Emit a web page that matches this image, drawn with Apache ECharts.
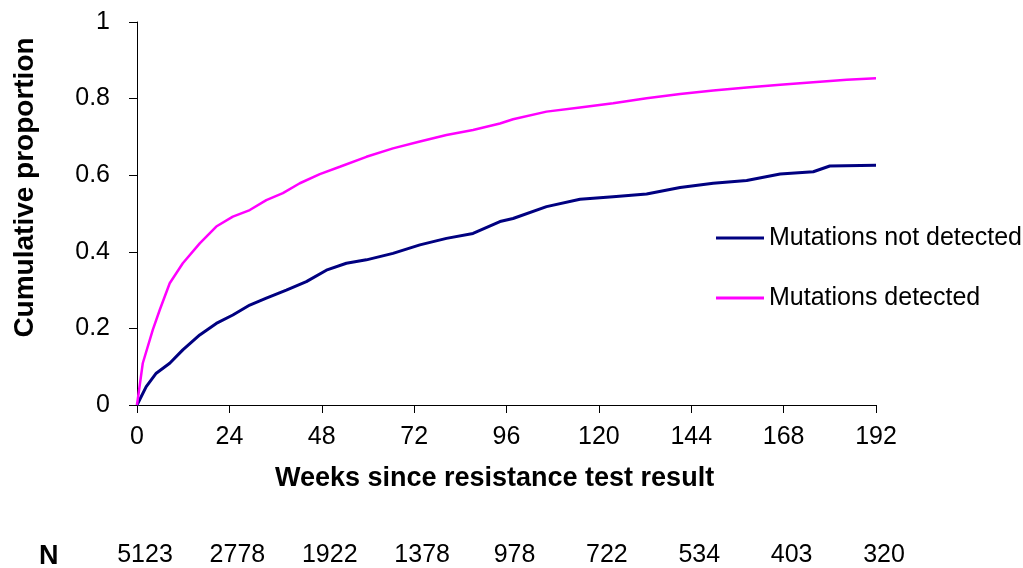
<!DOCTYPE html>
<html>
<head>
<meta charset="utf-8">
<script src="https://cdn.jsdelivr.net/npm/echarts@6/dist/echarts.min.js"></script>
<style>
  html, body { margin: 0; padding: 0; background: #fff; }
  #chart { width: 1023px; height: 568px; }
</style>
</head>
<body>
<div id="chart"></div>
<script>
// weeks since test / cumulative proportion
var weeksNotDetected = [0, 2.4, 5.0, 8.5, 11.9, 16.3, 20.6, 24.9, 29.3, 33.6, 38.8, 44, 49.2, 54.4, 59.6, 66.5, 73.5, 80.4, 87.3, 94.3, 97.7, 106.4, 115.1, 123.7, 132.4, 141.1, 149.7, 158.4, 167.1, 175.7, 180, 192];
var propNotDetected = [0, 0.048, 0.083, 0.109, 0.144, 0.183, 0.213, 0.235, 0.261, 0.279, 0.300, 0.322, 0.352, 0.370, 0.379, 0.396, 0.418, 0.435, 0.448, 0.479, 0.487, 0.518, 0.537, 0.544, 0.551, 0.568, 0.579, 0.586, 0.603, 0.609, 0.624, 0.626];

var weeksDetected = [0, 1.5, 4.1, 5.9, 8.5, 11.9, 16.3, 20.6, 24.9, 29.3, 33.6, 37.9, 42.3, 47.5, 52.7, 59.6, 66.5, 73.5, 80.4, 87.3, 94.3, 97.7, 106.4, 115.1, 123.7, 132.4, 141.1, 149.7, 158.4, 167.1, 175.7, 184.4, 192];
var propDetected = [0, 0.109, 0.196, 0.248, 0.318, 0.370, 0.422, 0.466, 0.492, 0.509, 0.535, 0.553, 0.579, 0.603, 0.622, 0.648, 0.670, 0.688, 0.705, 0.718, 0.735, 0.746, 0.766, 0.777, 0.788, 0.801, 0.812, 0.821, 0.829, 0.836, 0.843, 0.849, 0.853];

// numbers at risk under each x tick
var tickWeeks = [0, 24, 48, 72, 96, 120, 144, 168, 192];
var nAtRisk = [5123, 2778, 1922, 1378, 978, 722, 534, 403, 320];

function pairs(xs, ys) {
  var out = [];
  for (var i = 0; i < xs.length; i++) out.push([xs[i], ys[i]]);
  return out;
}

var myChart = echarts.init(document.getElementById('chart'));
var font = 'Liberation Sans, Arial, sans-serif';
var option = {
  animation: false,
  textStyle: { fontFamily: font },
  grid: { left: 137, right: 147, top: 22, bottom: 163 },
  legend: {
    orient: 'vertical',
    left: 711,
    top: 220,
    icon: 'rect',
    itemWidth: 48,
    itemHeight: 3,
    itemGap: 34,
    textStyle: { fontSize: 25, lineHeight: 26, color: '#000', fontFamily: font },
    data: ['Mutations not detected', 'Mutations detected']
  },
  xAxis: [
    {
      type: 'value',
      min: 0,
      max: 192,
      interval: 24,
      name: 'Weeks since resistance test result',
      nameLocation: 'middle',
      nameGap: 60,
      nameTextStyle: { fontSize: 27, fontWeight: 'bold', color: '#000', padding: [0, 24, 0, 0] },
      splitLine: { show: false },
      axisLine: { lineStyle: { color: '#000', width: 1 } },
      axisTick: { length: 8, lineStyle: { color: '#000' } },
      axisLabel: { fontSize: 25, color: '#000', margin: 20 }
    },
    {
      type: 'value',
      position: 'bottom',
      offset: 131,
      min: 0,
      max: 192,
      interval: 24,
      splitLine: { show: false },
      axisLine: { show: false },
      axisTick: { show: false },
      axisLabel: {
        fontSize: 25,
        color: '#000',
        margin: 7,
        padding: [0, 0, 0, 16],
        formatter: function (v) {
          var i = tickWeeks.indexOf(v);
          return i >= 0 ? String(nAtRisk[i]) : '';
        }
      }
    }
  ],
  yAxis: {
    type: 'value',
    min: 0,
    max: 1,
    interval: 0.2,
    name: 'Cumulative proportion',
    nameLocation: 'middle',
    nameGap: 98,
    nameTextStyle: { fontSize: 28, fontWeight: 'bold', color: '#000', padding: [0, 0, 0, 52] },
    splitLine: { show: false },
    axisLine: { show: true, lineStyle: { color: '#000', width: 1 } },
    axisTick: { show: true, length: 8, lineStyle: { color: '#000' } },
    axisLabel: { fontSize: 25, color: '#000', margin: 27 }
  },
  graphic: [
    {
      type: 'text',
      left: 39,
      top: 543,
      style: { text: 'N', fontSize: 27, fontWeight: 'bold', fill: '#000', fontFamily: font }
    }
  ],
  series: [
    {
      name: 'Mutations not detected',
      type: 'line',
      symbol: 'none',
      xAxisIndex: 0,
      data: pairs(weeksNotDetected, propNotDetected),
      lineStyle: { color: '#000080', width: 3 },
      itemStyle: { color: '#000080' }
    },
    {
      name: 'Mutations detected',
      type: 'line',
      symbol: 'none',
      xAxisIndex: 0,
      data: pairs(weeksDetected, propDetected),
      lineStyle: { color: '#ff00ff', width: 2.5 },
      itemStyle: { color: '#ff00ff' }
    }
  ]
};
myChart.setOption(option);
window.onresize = myChart.resize;
</script>
</body>
</html>
